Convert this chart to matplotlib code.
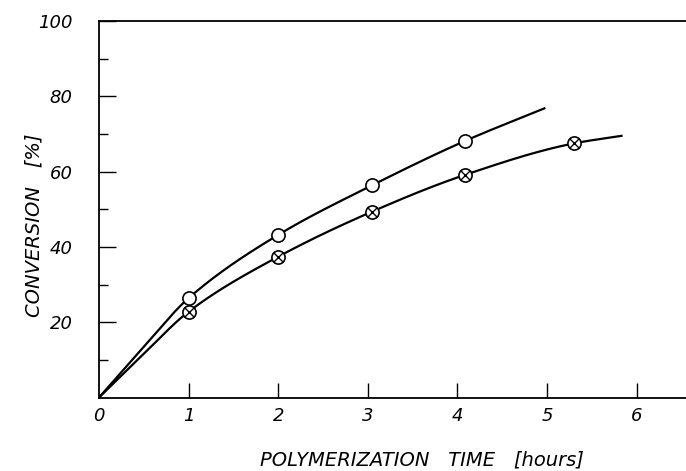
import numpy as np
import matplotlib
matplotlib.use("Agg")
import matplotlib.pyplot as plt

# Measured points (open circles)
t_open = [1.0, 2.0, 3.05, 4.08]
c_open = [26.4, 43.2, 56.4, 68.1]
# Measured points (crossed circles)
t_cross = [1.0, 2.0, 3.05, 4.08, 5.3]
c_cross = [22.8, 37.4, 49.4, 59.1, 67.5]

# Curve traces (origin, through points, to line end)
curve_open_t = [0.0, 0.5, 1.0, 2.0, 3.05, 4.08, 4.97]
curve_open_c = [0.0, 13.5, 26.4, 43.2, 56.4, 68.1, 76.8]
curve_cross_t = [0.0, 0.5, 1.0, 2.0, 3.05, 4.08, 5.3, 5.83]
curve_cross_c = [0.0, 11.6, 22.8, 37.4, 49.4, 59.1, 67.5, 69.5]

x_ticks = [0, 1, 2, 3, 4, 5, 6]
y_major = [20, 40, 60, 80, 100]
y_minor = [10, 30, 50, 70, 90]


def smooth(xs, ys, n=400):
    """Monotone cubic (Fritsch-Carlson) line drawn through the read curve points."""
    xs = np.asarray(xs, float)
    ys = np.asarray(ys, float)
    h = np.diff(xs)
    d = np.diff(ys) / h
    m = np.zeros_like(xs)
    m[0] = d[0]
    m[-1] = d[-1]
    for i in range(1, len(xs) - 1):
        if d[i - 1] * d[i] > 0:
            w1 = 2 * h[i] + h[i - 1]
            w2 = h[i] + 2 * h[i - 1]
            m[i] = (w1 + w2) / (w1 / d[i - 1] + w2 / d[i])
    xx = np.linspace(xs[0], xs[-1], n)
    idx = np.clip(np.searchsorted(xs, xx) - 1, 0, len(xs) - 2)
    t = (xx - xs[idx]) / h[idx]
    h00 = 2 * t**3 - 3 * t**2 + 1
    h10 = t**3 - 2 * t**2 + t
    h01 = -2 * t**3 + 3 * t**2
    h11 = t**3 - t**2
    yy = (h00 * ys[idx] + h10 * h[idx] * m[idx] + h01 * ys[idx + 1]
          + h11 * h[idx] * m[idx + 1])
    return xx, yy


fig = plt.figure(figsize=(6.86, 4.71), dpi=100)
ax = fig.add_axes([99 / 686, 1 - 397.5 / 471, 1 - 99 / 686, (397.5 - 21) / 471])

font = dict(family="DejaVu Sans", style="oblique", fontsize=14)

xx, yy = smooth(curve_open_t, curve_open_c)
ax.plot(xx, yy, color="black", lw=1.6, zorder=2)
xx, yy = smooth(curve_cross_t, curve_cross_c)
ax.plot(xx, yy, color="black", lw=1.6, zorder=2)

ax.plot(t_open, c_open, linestyle="none", marker="o", ms=9.5, mfc="white",
        mec="black", mew=1.2, zorder=3)
ax.plot(t_cross, c_cross, linestyle="none", marker="o", ms=9.5, mfc="white",
        mec="black", mew=1.2, zorder=3)
ax.plot(t_cross, c_cross, linestyle="none", marker="x", ms=6.5, mec="black",
        mew=1.0, zorder=4)

ax.set_xlim(0, 6.55)
ax.set_ylim(0, 100)

ax.spines["right"].set_visible(False)
for s in ["left", "bottom", "top"]:
    ax.spines[s].set_linewidth(1.3)

ax.set_xticks(x_ticks)
ax.set_xticklabels([str(v) for v in x_ticks])
ax.set_yticks(y_major)
ax.set_yticklabels([str(v) for v in y_major])
ax.set_yticks(y_minor, minor=True)

ax.tick_params(axis="x", direction="in", length=11, width=1.0, pad=7,
               top=False)
ax.tick_params(axis="y", which="major", direction="in", length=12, width=1.0,
               pad=19, right=False)
ax.tick_params(axis="y", which="minor", direction="in", length=6.5, width=1.0,
               right=False)
ax.xaxis.get_major_ticks()[0].tick1line.set_visible(False)

for lab in ax.get_xticklabels() + ax.get_yticklabels():
    lab.set_fontfamily("DejaVu Sans")
    lab.set_fontstyle("oblique")
    lab.set_fontsize(13)

ax.set_xlabel("POLYMERIZATION   TIME   [hours]", **font)
ax.xaxis.set_label_coords(0.55, -0.14)
ax.set_ylabel("CONVERSION   [%]", **font)
ax.yaxis.set_label_coords(-0.095, 0.458)

fig.savefig("out.png", dpi=100)
